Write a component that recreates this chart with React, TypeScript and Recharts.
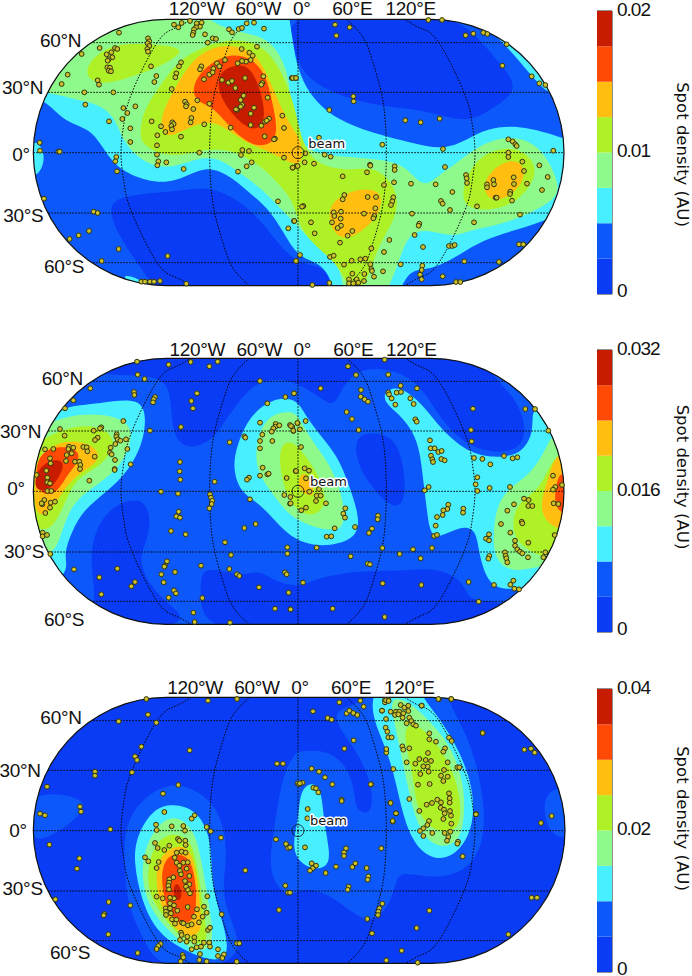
import React from 'react';
import { Bar, BarChart, ReferenceArea, Scatter, ScatterChart, XAxis, YAxis } from 'recharts';

type Pt = number[];

// map units are a third of a pixel, measured from each panel's top left corner
const EAST = 870;
const east = (list: Pt[]) => list.map(([x, y]) => [x + EAST, y]);
const shift = (list: Pt[], dx: number, dy: number) => list.map(([x, y]) => [x + dx, y + dy]);

const levelColors = ['#0a3cf5', '#0d58fa', '#48efff', '#8ffa8c', '#aef127', '#ffbe10', '#ff4a05', '#c71c00'];

// ---------- panel 1 ----------
const p1Spots: Pt[] = [[522,74],[545,69],[535,82],[570,63],[590,70],[605,68],[600,80],[588,82],[582,88],[580,98],[578,105],[615,103],[687,88],[696,97],[716,87],[726,84],[740,70],[762,68],[792,86],[357,98],[444,115],[448,124],[443,130],[448,138],[442,147],[444,155],[623,128],[638,115],[648,117],[245,162],[299,144],[345,144],[352,147],[334,157],[320,163],[337,172],[326,178],[323,182],[453,199],[543,187],[537,199],[529,220],[526,232],[469,228],[463,246],[322,202],[330,203],[326,212],[333,214],[203,224],[293,241],[297,254],[185,252],[253,277],[340,277],[515,267],[256,314],[370,324],[382,339],[406,319],[367,357],[327,364],[391,385],[391,426],[455,364],[483,379],[496,396],[472,406],[471,436],[471,464],[475,484],[472,496],[499,487],[543,410],[551,507],[598,458],[517,367],[521,372],[514,378],[516,388],[555,305],[560,313],[558,319],[580,327],[574,354],[572,367],[613,373],[592,301],[628,311],[119,428],[120,452],[175,455],[179,455],[349,471],[346,484],[351,514],[132,596],[281,635],[293,639],[267,693],[236,706],[209,717],[356,747],[305,783],[503,768],[424,845],[435,845],[450,845],[462,845],[480,843],[559,851],[834,604],[882,663],[865,685],[889,783],[725,147],[748,158],[758,167],[752,180],[738,185],[726,183],[713,190],[675,180],[651,190],[640,206],[658,199],[628,224],[638,217],[604,199],[600,208],[612,238],[666,240],[685,248],[696,243],[706,264],[735,234],[790,229],[787,249],[784,254],[771,140],[803,293],[731,287],[722,300],[727,315],[722,320],[711,330],[708,328],[762,323],[752,341],[752,375],[784,377],[795,365],[807,356],[800,362],[692,383],[847,347],[852,384],[794,409],[825,416],[822,418],[727,450],[747,453],[723,465],[755,487],[740,499],[714,515],[852,473],[878,503],[889,498],[875,234],[886,234]];
const p1SpotsEast: Pt[] = [[135,74],[179,82],[139,107],[415,60],[456,60],[527,106],[550,101],[580,98],[592,102],[650,133],[637,197],[725,229],[748,250],[766,255],[190,289],[191,304],[118,330],[346,361],[392,367],[449,356],[277,434],[459,447],[655,418],[668,424],[676,433],[680,438],[655,458],[655,471],[790,452],[697,485],[748,496],[702,513],[773,531],[711,551],[756,570],[671,532],[672,552],[610,540],[612,553],[591,553],[591,562],[528,525],[530,535],[531,549],[487,576],[437,553],[363,551],[465,501],[314,499],[314,510],[312,547],[240,494],[241,497],[231,517],[158,529],[282,555],[163,585],[158,598],[233,591],[258,591],[310,592],[307,604],[303,615],[256,625],[40,618],[36,620],[131,637],[153,635],[133,648],[152,656],[126,667],[153,677],[143,684],[187,693],[173,707],[74,700],[63,667],[13,663],[150,728],[222,641],[253,648],[250,655],[366,641],[388,671],[386,677],[374,705],[298,720],[399,741],[282,756],[244,745],[477,738],[487,738],[494,735],[552,667],[690,644],[561,619],[480,630],[453,603],[458,611],[617,593],[620,593],[661,575],[660,582],[666,602],[687,733],[700,733],[523,784],[627,786],[120,771],[131,767],[185,782],[162,794],[211,778],[226,776],[241,793],[244,807],[246,813],[279,814],[332,793],[397,797],[395,810],[390,824],[395,838],[458,829],[498,846],[511,846],[67,855],[118,849],[177,838],[187,821],[223,822],[252,830],[177,850],[190,850],[200,838],[205,848],[222,843],[30,765],[18,783],[72,491],[44,487],[23,498],[8,503],[46,460],[104,464],[122,470],[87,413],[8,234],[18,234]];

const p1DeepSouth: Pt[] = [[318,605],[400,582],[530,575],[620,558],[700,590],[775,650],[840,740],[900,795],[970,795],[1000,860],[1010,920],[500,920],[420,800],[350,700]];
const p1DeepNorth: Pt[] = [[860,30],[875,120],[895,190],[930,240],[1010,285],[1140,320],[1280,330],[1400,372],[1470,330],[1540,285],[1540,240],[1500,190],[1440,120],[1350,30]];
const p1Cyan: Pt[] = [[60,290],[135,295],[190,365],[270,385],[310,445],[350,505],[440,545],[525,550],[610,497],[680,520],[745,575],[805,625],[850,695],[895,775],[970,790],[1000,860],[1020,920],[1190,920],[1220,805],[1290,812],[1370,770],[1430,730],[1510,700],[1630,665],[1700,630],[1770,520],[1760,415],[1695,420],[1650,400],[1550,375],[1460,385],[1400,420],[1330,450],[1240,430],[1120,400],[1010,360],[930,290],[890,200],[880,130],[865,40],[860,-20],[0,-20],[0,290]];
const p1CyanEdge: Pt[] = [[90,410],[130,440],[135,500],[90,550]];
const p1CyanNe: Pt[] = east([[560,60],[600,90],[650,140],[715,215],[775,285],[830,290],[800,100],[620,50]]);
const p1CyanSw: Pt[] = [[360,822],[410,832],[435,852],[400,860]];
const p1Light: Pt[] = [[50,270],[140,275],[230,300],[295,312],[345,350],[368,425],[425,485],[505,510],[600,470],[660,475],[720,520],[785,565],[850,635],[900,685],[930,720],[990,770],[1025,810],[1035,920],[1150,920],[1200,770],[1230,695],[1290,690],[1360,712],[1410,690],[1510,672],[1590,640],[1680,590],[1670,535],[1640,470],[1590,420],[1510,408],[1430,440],[1370,490],[1310,530],[1270,565],[1220,500],[1160,480],[1040,470],[970,465],[900,440],[870,330],[870,225],[820,125],[750,100],[660,85],[600,30],[400,0],[50,100]];
const p1LimeMain: Pt[] = [[420,400],[428,335],[475,265],[530,185],[600,145],[680,118],[770,122],[835,190],[880,300],[895,380],[930,490],[1040,515],[1130,495],[1195,570],[1190,650],[1150,710],[1120,780],[1095,860],[1050,880],[1020,800],[960,750],[900,690],[880,600],[830,545],[780,495],[700,450],[620,445],[540,470],[470,460],[425,430]];
const p1LimeEast: Pt[] = east([[510,590],[540,500],[600,450],[680,440],[730,480],[740,530],[690,600],[620,630],[540,630]]);
const p1LimeWest: Pt[] = [[258,235],[262,190],[320,140],[400,128],[555,140],[530,170],[470,205],[380,235],[310,255]];
const p1Orange: Pt[] = [[478,375],[495,320],[530,255],[570,190],[620,148],[685,132],[755,150],[795,205],[830,295],[875,385],[905,420],[910,495],[870,490],[800,450],[740,430],[680,385],[625,360],[560,385],[500,418]];
const p1OrangeSouth: Pt[] = east([[115,640],[130,600],[190,570],[250,565],[280,590],[265,650],[210,700],[160,720],[125,690]]);
const p1OrangeEast: Pt[] = east([[580,550],[610,505],[660,478],[700,490],[705,540],[660,590],[610,605],[585,580]]);
const p1Red: Pt[] = [[575,280],[590,230],[630,190],[690,160],[760,175],[800,230],[815,300],[835,390],[815,435],[760,440],[700,395],[640,320],[600,310]];
const p1Dark: Pt[] = [[650,250],[665,210],[720,190],[760,210],[790,300],[795,360],[770,395],[720,370],[670,310]];

// ---------- panel 2 ----------
const p2Spots: Pt[] = [[411,80],[506,89],[572,81],[628,94],[653,80],[413,119],[434,132],[780,138],[271,160],[220,196],[195,220],[402,171],[403,180],[465,186],[461,193],[459,202],[591,175],[574,198],[579,220],[856,186],[882,175],[802,205],[370,258],[543,276],[450,287],[180,282],[304,277],[300,280],[281,287],[194,302],[293,308],[285,315],[350,298],[349,305],[353,313],[346,327],[361,317],[378,313],[332,338],[382,342],[330,353],[335,358],[284,365],[135,343],[160,342],[207,335],[205,342],[220,338],[250,336],[260,337],[262,349],[215,355],[200,360],[150,370],[152,385],[198,378],[225,380],[238,380],[241,390],[240,402],[345,375],[344,402],[344,405],[392,388],[139,407],[110,420],[142,428],[268,437],[142,442],[150,445],[142,468],[154,468],[133,495],[152,503],[165,500],[127,508],[125,505],[150,518],[136,534],[128,593],[128,604],[141,600],[151,657],[222,703],[352,701],[298,727],[405,741],[394,754],[304,778],[483,470],[534,476],[540,381],[539,409],[541,434],[536,530],[529,544],[540,548],[513,588],[557,598],[603,692],[501,679],[495,692],[493,695],[484,718],[525,711],[491,742],[522,766],[528,775],[506,788],[607,789],[580,833],[584,861],[690,863],[644,440],[630,478],[633,488],[637,497],[635,507],[628,520],[689,322],[733,304],[736,308],[780,263],[787,299],[780,318],[817,318],[780,340],[788,398],[780,422],[802,418],[806,416],[747,428],[741,434],[860,429],[887,408],[853,480],[871,486],[870,506],[750,493],[767,567],[733,579],[675,622],[693,660],[862,637],[862,656],[688,702],[711,718],[718,723],[777,757],[855,712],[860,718],[866,773],[825,821],[871,823],[827,267],[826,275],[838,271],[820,280],[815,290],[870,270],[877,276],[880,288],[893,265]];
const p2SpotsEast: Pt[] = [[284,74],[174,94],[198,120],[295,119],[92,160],[12,175],[213,165],[212,185],[224,193],[234,200],[332,152],[381,160],[295,172],[297,178],[305,190],[320,173],[333,171],[361,190],[371,207],[316,209],[549,221],[706,222],[735,222],[170,231],[186,252],[376,253],[380,260],[47,258],[22,264],[3,273],[10,287],[30,283],[206,285],[543,285],[545,319],[775,287],[420,316],[422,340],[434,340],[445,351],[455,348],[423,362],[427,373],[429,381],[454,372],[464,376],[33,336],[552,369],[577,372],[601,388],[642,363],[668,370],[682,367],[18,408],[44,400],[57,407],[48,430],[789,422],[562,427],[557,448],[562,468],[599,459],[660,456],[404,466],[416,456],[796,456],[816,450],[789,464],[58,470],[87,462],[80,482],[92,482],[78,498],[2,505],[108,505],[48,518],[34,526],[791,505],[805,507],[702,491],[716,495],[715,513],[727,513],[672,508],[652,527],[695,560],[697,565],[633,567],[661,593],[475,509],[472,522],[460,526],[458,540],[441,546],[520,521],[519,533],[437,572],[432,603],[441,600],[166,520],[160,536],[165,548],[264,542],[263,553],[195,576],[134,580],[110,605],[124,604],[246,581],[237,594],[794,600],[597,598],[588,611],[597,616],[715,623],[675,617],[675,632],[682,643],[690,650],[697,655],[80,638],[277,639],[426,639],[369,643],[329,657],[392,670],[182,664],[233,686],[240,688],[598,663],[595,671],[645,652],[647,662],[649,670],[652,682],[714,667],[766,652],[760,667],[39,743],[278,745],[394,750],[536,741],[612,750],[670,737],[661,749],[673,761],[687,763],[566,800],[128,821],[284,846],[2,823]];

const p2DeepNorth: Pt[] = [[200,60],[240,125],[480,115],[515,170],[515,310],[570,345],[640,315],[680,250],[730,180],[780,135],[870,130],[950,180],[1000,218],[1020,170],[1065,105],[1150,98],[1230,125],[1280,180],[1320,250],[1390,325],[1470,352],[1540,350],[1578,310],[1570,240],[1535,180],[1495,140],[1450,80],[1400,20],[300,20]];
const p2DeepMid: Pt[] = east([[190,310],[240,290],[315,305],[345,400],[345,505],[310,520],[260,475],[205,400]]);
const p2DeepSouth: Pt[] = [[280,795],[285,765],[265,635],[320,515],[430,480],[455,555],[438,625],[415,675],[450,755],[510,810],[580,870],[300,900]];
const p2DeepSouthEast: Pt[] = [[600,790],[602,715],[630,698],[730,725],[780,703],[830,745],[910,755],[930,735],[1070,705],[1200,710],[1310,695],[1390,740],[1400,780],[1430,800],[1560,800],[1500,920],[620,920]];
const p2CyanWest: Pt[] = [[60,260],[160,235],[210,212],[300,205],[400,190],[440,220],[432,320],[385,410],[320,470],[250,525],[215,590],[190,660],[208,705],[150,760],[60,700]];
const p2CyanMid: Pt[] = [[698,400],[710,330],[750,240],[820,188],[890,190],[915,240],[960,300],[1010,360],[1040,430],[1085,560],[1060,615],[980,635],[910,625],[860,595],[815,545],[770,500],[720,470]];
const p2CyanEast: Pt[] = [[1150,170],[1200,150],[1270,210],[1320,280],[1410,360],[1510,370],[1570,350],[1600,290],[1595,240],[1610,210],[1720,300],[1720,700],[1570,765],[1490,762],[1460,730],[1440,670],[1430,600],[1415,580],[1380,575],[1320,607],[1290,600],[1280,520],[1270,440],[1260,350],[1240,290],[1200,240],[1155,205]];
const p2LightWest: Pt[] = [[60,300],[150,262],[235,235],[340,240],[392,270],[395,320],[365,385],[320,430],[260,470],[215,510],[185,590],[160,670],[60,650]];
const p2LightMid: Pt[] = [[765,370],[775,295],[810,238],[870,228],[895,240],[930,310],[970,360],[1010,430],[1035,520],[1030,585],[980,585],[930,572],[870,545],[820,480],[780,425]];
const p2LightEast: Pt[] = [[1480,590],[1490,510],[1530,455],[1590,420],[1640,340],[1655,295],[1720,290],[1720,680],[1630,690],[1550,712],[1500,690],[1482,650]];
const p2LimeWest: Pt[] = [[130,315],[180,285],[260,268],[320,285],[345,320],[330,360],[290,400],[230,430],[200,490],[165,570],[130,590],[60,560],[60,340]];
const p2LimeMid: Pt[] = [[838,385],[842,330],[870,318],[895,335],[925,375],[955,420],[985,500],[950,540],[915,540],[875,510],[850,450]];
const p2LimeEast: Pt[] = [[1535,570],[1550,510],[1590,480],[1625,450],[1650,390],[1680,350],[1720,350],[1720,600],[1650,670],[1600,655],[1550,620]];
const p2OrangeWest: Pt[] = [[105,380],[135,345],[190,318],[255,320],[300,350],[290,385],[245,410],[200,450],[165,510],[130,545],[100,530]];
const p2OrangeMid: Pt[] = east([[26,430],[40,410],[65,430],[75,485],[50,480],[26,462]]);
const p2OrangeEast: Pt[] = east([[755,490],[775,430],[795,360],[840,350],[840,590],[800,580],[770,560],[755,530]]);
const p2RedWest: Pt[] = [[105,380],[145,335],[225,335],[245,370],[200,420],[170,480],[110,480]];
const p2RedEast: Pt[] = east([[795,470],[805,420],[825,410],[840,540],[805,530],[795,500]]);
const p2DarkWest: Pt[] = [[105,420],[130,385],[175,370],[195,390],[175,430],[150,465],[105,470]];

// ---------- panel 3 ----------
const p3Spots: Pt[] = [[439,72],[624,77],[711,72],[444,119],[356,139],[469,143],[424,215],[569,226],[405,244],[411,255],[285,290],[285,302],[396,292],[831,266],[849,266],[141,335],[535,330],[489,356],[893,325],[240,395],[243,410],[120,416],[135,421],[493,411],[584,421],[575,431],[468,449],[470,465],[515,454],[550,453],[555,467],[331,463],[620,456],[632,469],[663,488],[828,493],[148,509],[858,507],[864,519],[238,550],[231,581],[736,586],[856,632],[864,653],[837,705],[166,673],[326,681],[391,691],[313,717],[311,721],[325,778],[413,834],[711,805],[718,805],[665,718],[710,860]];
const p3SpotsSouth: Pt[] = [[165,69],[173,84],[208,77],[193,90],[234,57],[238,62],[256,62],[257,75],[135,112],[145,124],[176,126],[170,144],[230,98],[245,95],[257,98],[224,113],[230,128],[238,137],[250,128],[263,127],[260,146],[240,153],[243,163],[220,172],[208,178],[207,188],[205,197],[207,208],[268,168],[255,183],[268,193],[258,200],[264,210],[270,220],[170,230],[188,235],[222,235],[210,233],[322,229],[210,250],[222,256],[197,265],[198,275],[210,265],[213,280],[232,272],[263,261],[291,268],[312,260],[320,278],[308,290],[198,285],[216,298],[229,299],[225,311],[246,308],[250,310],[264,316],[275,313],[282,290],[297,307],[324,330],[330,323],[243,338],[245,345],[262,350],[240,360],[283,352],[283,365],[260,365],[182,372],[175,378],[170,387],[275,388],[290,382],[303,380],[300,402],[312,368],[328,368],[330,380],[354,388],[372,403],[354,408],[367,414],[248,405],[250,412],[242,424],[298,420],[320,424]];
const p3SpotsNorth: Pt[] = [[45,15],[55,15],[45,22],[92,30],[103,38],[115,32],[155,32],[207,13],[243,12],[36,47],[62,50],[78,50],[88,50],[100,55],[115,48],[75,60],[85,58],[98,68],[118,68],[124,78],[48,72],[110,85],[130,88],[138,92],[47,98],[52,110],[55,127],[65,127],[178,115],[178,133],[198,140],[237,128],[245,138],[338,114],[97,154],[100,164],[118,160],[225,160],[220,170],[174,174],[49,173],[110,202],[136,206],[148,192],[167,195],[183,198],[173,215],[160,214],[233,202],[262,217],[268,217],[70,222],[222,225],[176,230],[151,237],[213,242],[233,245],[220,258],[144,269],[179,267],[4,268],[237,295],[239,310],[239,323],[118,312],[170,329],[186,324],[202,314],[213,322],[61,323],[212,338],[148,348],[222,344],[224,355],[240,348],[243,362],[78,355],[68,380],[318,357],[220,372],[244,386],[177,378],[172,390],[160,400],[150,408],[160,423],[187,414],[224,414],[241,410],[235,426],[231,437],[264,440],[262,446]];
const p3SpotsEast: Pt[] = [[148,82],[211,77],[221,95],[69,109],[113,129],[125,134],[170,115],[178,107],[190,114],[202,120],[191,196],[163,221],[276,107],[289,222],[578,174],[703,224],[723,221],[734,233],[65,281],[87,290],[105,307],[127,328],[242,328],[27,328],[38,323],[30,325],[70,338],[78,340],[85,352],[155,374],[155,378],[53,402],[52,430],[302,384],[318,415],[308,438],[558,418],[785,423],[753,444],[274,520],[518,544],[0,517],[45,517],[168,520],[162,532],[162,543],[65,565],[78,572],[68,580],[60,587],[107,594],[138,575],[187,576],[196,565],[230,579],[235,604],[233,614],[176,635],[173,644],[725,668],[741,668],[0,653],[277,686],[268,700],[265,710],[264,720],[232,732],[418,707],[380,759],[246,775],[655,778],[335,827],[289,856],[383,863],[445,72],[484,72],[395,92],[288,76],[296,78]];

const p3MidEdge: Pt[] = [[100,360],[170,355],[240,370],[258,395],[220,440],[150,485],[100,500],[60,430]];
const p3MidSw: Pt[] = [[370,480],[400,400],[470,340],[530,325],[600,350],[650,400],[675,470],[680,560],[665,650],[690,730],[720,800],[700,870],[480,890],[430,790],[385,700],[375,600]];
const p3MidCentre: Pt[] = [[1340,30],[1340,70],[1390,160],[1430,260],[1455,400],[1450,510],[1400,590],[1300,612],[1210,590],[1188,610],[1175,680],[1120,745],[1065,720],[1005,670],[940,640],[880,650],[870,668],[820,625],[808,555],[825,440],[850,290],[885,240],[890,228],[980,225],[1035,265],[1065,340],[1065,410],[1115,420],[1120,345],[1080,240],[1020,165],[1002,115],[1040,95],[1110,70],[1110,30]];
const p3MidEast: Pt[] = [[1640,350],[1630,400],[1645,470],[1700,500],[1730,420],[1700,330]];
const p3CyanBeam: Pt[] = [[895,430],[900,350],[930,320],[965,340],[970,430],[990,530],[985,575],[940,585],[895,560],[880,520],[885,470]];
const p3CyanNe: Pt[] = [[1115,20],[1115,130],[1160,220],[1190,330],[1215,450],[1260,532],[1320,558],[1380,530],[1422,450],[1420,340],[1380,230],[1320,130],[1260,60],[1260,20]];
const p3CyanSw: Pt[] = [[400,560],[410,480],[460,400],[520,385],[590,405],[630,480],[635,570],[640,650],[665,730],[685,810],[675,855],[620,855],[540,820],[470,770],[425,680]];
const p3LightNe: Pt[] = [[1165,70],[1190,170],[1205,250],[1225,340],[1245,430],[1280,495],[1325,518],[1370,505],[1392,450],[1395,350],[1370,250],[1320,170],[1260,110],[1210,70]];
const p3LightSw: Pt[] = [[422,590],[440,500],[490,430],[540,425],[585,470],[605,560],[620,650],[635,740],[640,810],[600,835],[540,800],[480,740],[440,680]];
const p3LimeNe: Pt[] = [[1215,150],[1250,145],[1310,200],[1360,290],[1382,370],[1382,450],[1350,472],[1290,465],[1248,400],[1240,300],[1215,210]];
const p3LimeSw: Pt[] = [[440,600],[460,510],[510,470],[570,490],[590,560],[605,660],[615,740],[625,800],[590,810],[530,780],[480,710],[450,660]];
const p3Orange: Pt[] = [[465,610],[480,540],[530,510],[570,520],[590,590],[600,690],[608,770],[570,790],[520,760],[480,690]];
const p3Red: Pt[] = [[482,610],[495,545],[540,535],[575,555],[590,640],[588,725],[560,750],[515,735],[495,680]];
const p3Dark: Pt[] = [[518,640],[530,620],[544,640],[546,675],[525,678]];

// meridians as offset from the 0 degree line against offset from the equator
const meridian60: Pt[] = [[146,-400],[194,-348],[222,-280],[250,-180],[262,-90],[265,0],[262,90],[250,180],[222,280],[194,348],[146,400]];
const meridian120: Pt[] = [[320,-400],[369,-373],[424,-328],[499,-178],[522,-90],[531,0],[522,90],[499,178],[424,328],[369,373],[320,400]];

const panels = [
  {
    chartTop: 0, frame: { left: 100, right: 1692, top: 58, bottom: 857 }, centre: 894,
    parallels: [128, 277, 458, 639, 788], baseLevel: 1,
    layers: [[0, p1DeepSouth], [0, p1DeepNorth], [2, p1Cyan], [2, p1CyanEdge], [2, p1CyanNe], [2, p1CyanSw], [3, p1Light], [4, p1LimeMain], [4, p1LimeEast], [4, p1LimeWest], [5, p1Orange], [5, p1OrangeSouth], [5, p1OrangeEast], [6, p1Red], [7, p1Dark]] as [number, Pt[]][],
    spots: [...p1Spots, ...east(p1SpotsEast)],
    beam: [894, 458], beamText: [925, 430],
    latLabels: [[182, 122, '60°N'], [68, 262, '30°N'], [63, 462, '0°'], [70, 645, '30°S'], [192, 800, '60°S']],
    lonLabels: [[590, 24, '120°W'], [775, 24, '60°W'], [905, 24, '0°'], [1057, 24, '60°E'], [1232, 24, '120°E']],
    barTop: 11, barBottom: 7, max: 0.02, ticks: [0, 0.01, 0.02], titleDy: 2,
  },
  {
    chartTop: 335, frame: { left: 100, right: 1692, top: 70, bottom: 868 }, centre: 894,
    parallels: [139, 288, 469, 651, 799], baseLevel: 1,
    layers: [[0, p2DeepNorth], [0, p2DeepMid], [0, p2DeepSouth], [0, p2DeepSouthEast], [2, p2CyanWest], [2, p2CyanMid], [2, p2CyanEast], [3, p2LightWest], [3, p2LightMid], [3, p2LightEast], [4, p2LimeWest], [4, p2LimeMid], [4, p2LimeEast], [5, p2OrangeWest], [5, p2OrangeMid], [5, p2OrangeEast], [6, p2RedWest], [6, p2RedEast], [7, p2DarkWest]] as [number, Pt[]][],
    spots: [...p2Spots, ...east(p2SpotsEast)],
    beam: [894, 469], beamText: [930, 440],
    latLabels: [[187, 130, '60°N'], [62, 290, '30°N'], [48, 460, '0°'], [72, 650, '30°S'], [192, 852, '60°S']],
    lonLabels: [[592, 42, '120°W'], [778, 42, '60°W'], [907, 42, '0°'], [1060, 42, '60°E'], [1234, 42, '120°E']],
    barTop: 15, barBottom: 4, max: 0.032, ticks: [0, 0.016, 0.032], titleDy: -14,
  },
  {
    chartTop: 675, frame: { left: 100, right: 1695, top: 67, bottom: 865 }, centre: 894,
    parallels: [137, 286, 467, 648, 797], baseLevel: 0,
    layers: [[1, p3MidEdge], [1, p3MidSw], [1, p3MidCentre], [1, p3MidEast], [2, p3CyanBeam], [2, p3CyanNe], [2, p3CyanSw], [3, p3LightNe], [3, p3LightSw], [4, p3LimeNe], [4, p3LimeSw], [5, p3Orange], [6, p3Red], [7, p3Dark]] as [number, Pt[]][],
    spots: [...p3Spots, ...shift(p3SpotsSouth, 300, 435), ...shift(p3SpotsNorth, 1110, 60), ...east(p3SpotsEast)],
    beam: [894, 467], beamText: [930, 437],
    latLabels: [[183, 127, '60°N'], [60, 285, '30°N'], [54, 465, '0°'], [68, 640, '30°S'], [210, 832, '60°S']],
    lonLabels: [[585, 38, '120°W'], [771, 38, '60°W'], [900, 38, '0°'], [1053, 38, '60°E'], [1228, 38, '120°E']],
    barTop: 14, barBottom: 4, max: 0.04, ticks: [0, 0.02, 0.04], titleDy: -12,
  },
];

const toPoints = (list: Pt[]) => list.map(([x, y]) => ({ x, y }));
const noMark = () => null;

const stadium = (f: { left: number; right: number; top: number; bottom: number }) => {
  const r = (f.bottom - f.top) / 2;
  const cy = f.top + r;
  const out: Pt[] = [];
  for (let a = -90; a <= 90; a += 6) out.push([f.right - r + r * Math.cos((a * Math.PI) / 180), cy + r * Math.sin((a * Math.PI) / 180)]);
  for (let a = 90; a <= 270; a += 6) out.push([f.left + r + r * Math.cos((a * Math.PI) / 180), cy + r * Math.sin((a * Math.PI) / 180)]);
  return out;
};

const spotShape = (p: any) => <circle cx={p.cx} cy={p.cy} r={2.4} fill="#c9c22c" stroke="#33330f" strokeWidth={1} />;
const textShape = (p: any) => (
  <text x={p.cx} y={p.cy} textAnchor="middle" dominantBaseline="central" fontFamily="Liberation Sans" fontSize={19} letterSpacing={-0.3} fill="#111">
    {p.payload.label}
  </text>
);
const beamShape = (p: any) => (
  <g>
    <circle cx={p.cx} cy={p.cy} r={6} fill="none" stroke="#111" strokeWidth={0.8} />
    <circle cx={p.cx} cy={p.cy} r={1} fill="#111" />
  </g>
);
const beamTextShape = (p: any) => (
  <text x={p.cx} y={p.cy} dominantBaseline="central" fontFamily="DejaVu Sans" fontSize={13} fill="#111" stroke="#fff" strokeWidth={3} paintOrder="stroke" strokeLinejoin="round">
    beam
  </text>
);
// the bottom label of each colour bar sits a little higher than the others
const barTick = (p: any) => (
  <text
    x={p.x}
    y={p.y + (p.payload.value === 0 ? -4 : -2)}
    dominantBaseline="central"
    fontFamily="Liberation Sans"
    fontSize={19}
    letterSpacing={-1}
    fill="#111"
  >
    {String(p.payload.value)}
  </text>
);

function MapPanel({ panel, index }: { panel: (typeof panels)[number]; index: number }) {
  const { frame, centre, parallels } = panel;
  const eq = parallels[2];
  const clipId = `map-clip-${index}`;
  const clip = `url(#${clipId})`;
  const outline = toPoints(stadium(frame));
  const meridians = [meridian60, meridian120].flatMap((m) => [
    m.map(([dx, dy]) => ({ x: centre - dx, y: eq + dy })),
    m.map(([dx, dy]) => ({ x: centre + dx, y: eq + dy })),
  ]);
  const grid = '1.5 1.5';
  return (
    <ScatterChart width={692} height={300} margin={{ top: 0, right: 0, bottom: 0, left: 0 }}>
      <defs>
        <clipPath id={clipId}>
          <rect
            x={frame.left / 3}
            y={frame.top / 3}
            width={(frame.right - frame.left) / 3}
            height={(frame.bottom - frame.top) / 3}
            rx={(frame.bottom - frame.top) / 6}
          />
        </clipPath>
      </defs>
      <XAxis type="number" dataKey="x" domain={[0, 2076]} allowDataOverflow hide />
      <YAxis type="number" dataKey="y" domain={[0, 900]} reversed allowDataOverflow hide />
      <Scatter data={outline} isAnimationActive={false} shape={noMark} line={{ fill: levelColors[panel.baseLevel], stroke: 'none' }} lineJointType="linearClosed" />
      {panel.layers.map(([level, ring], i) => (
        <Scatter
          key={i}
          data={toPoints(ring)}
          isAnimationActive={false}
          shape={noMark}
          line={{ fill: levelColors[level], stroke: 'none', clipPath: clip }}
          lineJointType="basisClosed"
        />
      ))}
      {parallels.map((y) => (
        <Scatter
          key={y}
          data={[{ x: frame.left, y }, { x: frame.right, y }]}
          isAnimationActive={false}
          shape={noMark}
          line={{ stroke: '#000', strokeWidth: 1, strokeDasharray: grid, clipPath: clip }}
        />
      ))}
      <Scatter
        data={[{ x: centre, y: frame.top }, { x: centre, y: frame.bottom }]}
        isAnimationActive={false}
        shape={noMark}
        line={{ stroke: '#000', strokeWidth: 1, strokeDasharray: grid, clipPath: clip }}
      />
      {meridians.map((m, i) => (
        <Scatter
          key={i}
          data={m}
          isAnimationActive={false}
          shape={noMark}
          line={{ stroke: '#000', strokeWidth: 1, strokeDasharray: grid, clipPath: clip }}
          lineJointType="natural"
        />
      ))}
      <Scatter data={outline} isAnimationActive={false} shape={noMark} line={{ fill: 'none', stroke: '#111', strokeWidth: 1.2 }} lineJointType="linearClosed" />
      <Scatter data={toPoints(panel.spots)} isAnimationActive={false} shape={spotShape} />
      <Scatter data={[{ x: panel.beam[0], y: panel.beam[1] }]} isAnimationActive={false} shape={beamShape} />
      <Scatter data={[{ x: panel.beamText[0], y: panel.beamText[1] }]} isAnimationActive={false} shape={beamTextShape} />
      <Scatter
        data={[...panel.latLabels, ...panel.lonLabels].map(([x, y, label]) => ({ x, y, label }))}
        isAnimationActive={false}
        shape={textShape}
      />
    </ScatterChart>
  );
}

function ColorBar({ panel }: { panel: (typeof panels)[number] }) {
  const step = panel.max / levelColors.length;
  const row: Record<string, number> = {};
  levelColors.forEach((_, i) => {
    row[`level${i}`] = step;
  });
  return (
    <BarChart
      width={95}
      height={301}
      data={[row]}
      barCategoryGap={0}
      margin={{ top: panel.barTop, right: 0, bottom: panel.barBottom, left: 0 }}
    >
      <XAxis hide />
      <YAxis
        orientation="right"
        width={80}
        type="number"
        domain={[0, panel.max]}
        ticks={panel.ticks}
        interval={0}
        axisLine={false}
        tickLine={false}
        tickSize={0}
        tickMargin={5}
        tick={barTick}
        label={{
          value: 'Spot density (AU)',
          angle: 90,
          position: 'center',
          dx: 31,
          dy: panel.titleDy,
          fontSize: 16.5,
          fontFamily: 'DejaVu Sans',
          fill: '#111',
        }}
      />
      {levelColors.map((color, i) => (
        <Bar key={color} dataKey={`level${i}`} stackId="bar" fill={color} isAnimationActive={false} />
      ))}
      <ReferenceArea y1={0} y2={panel.max} fill="none" stroke="#222" strokeWidth={1} />
    </BarChart>
  );
}

export default function App() {
  return (
    <div style={{ position: 'absolute', left: 0, top: 0, width: 692, height: 976, background: '#fff' }}>
      {panels.map((panel, i) => (
        <React.Fragment key={i}>
          <div style={{ position: 'absolute', left: 0, top: panel.chartTop }}>
            <MapPanel panel={panel} index={i} />
          </div>
          <div style={{ position: 'absolute', left: 597, top: panel.chartTop }}>
            <ColorBar panel={panel} />
          </div>
        </React.Fragment>
      ))}
    </div>
  );
}
